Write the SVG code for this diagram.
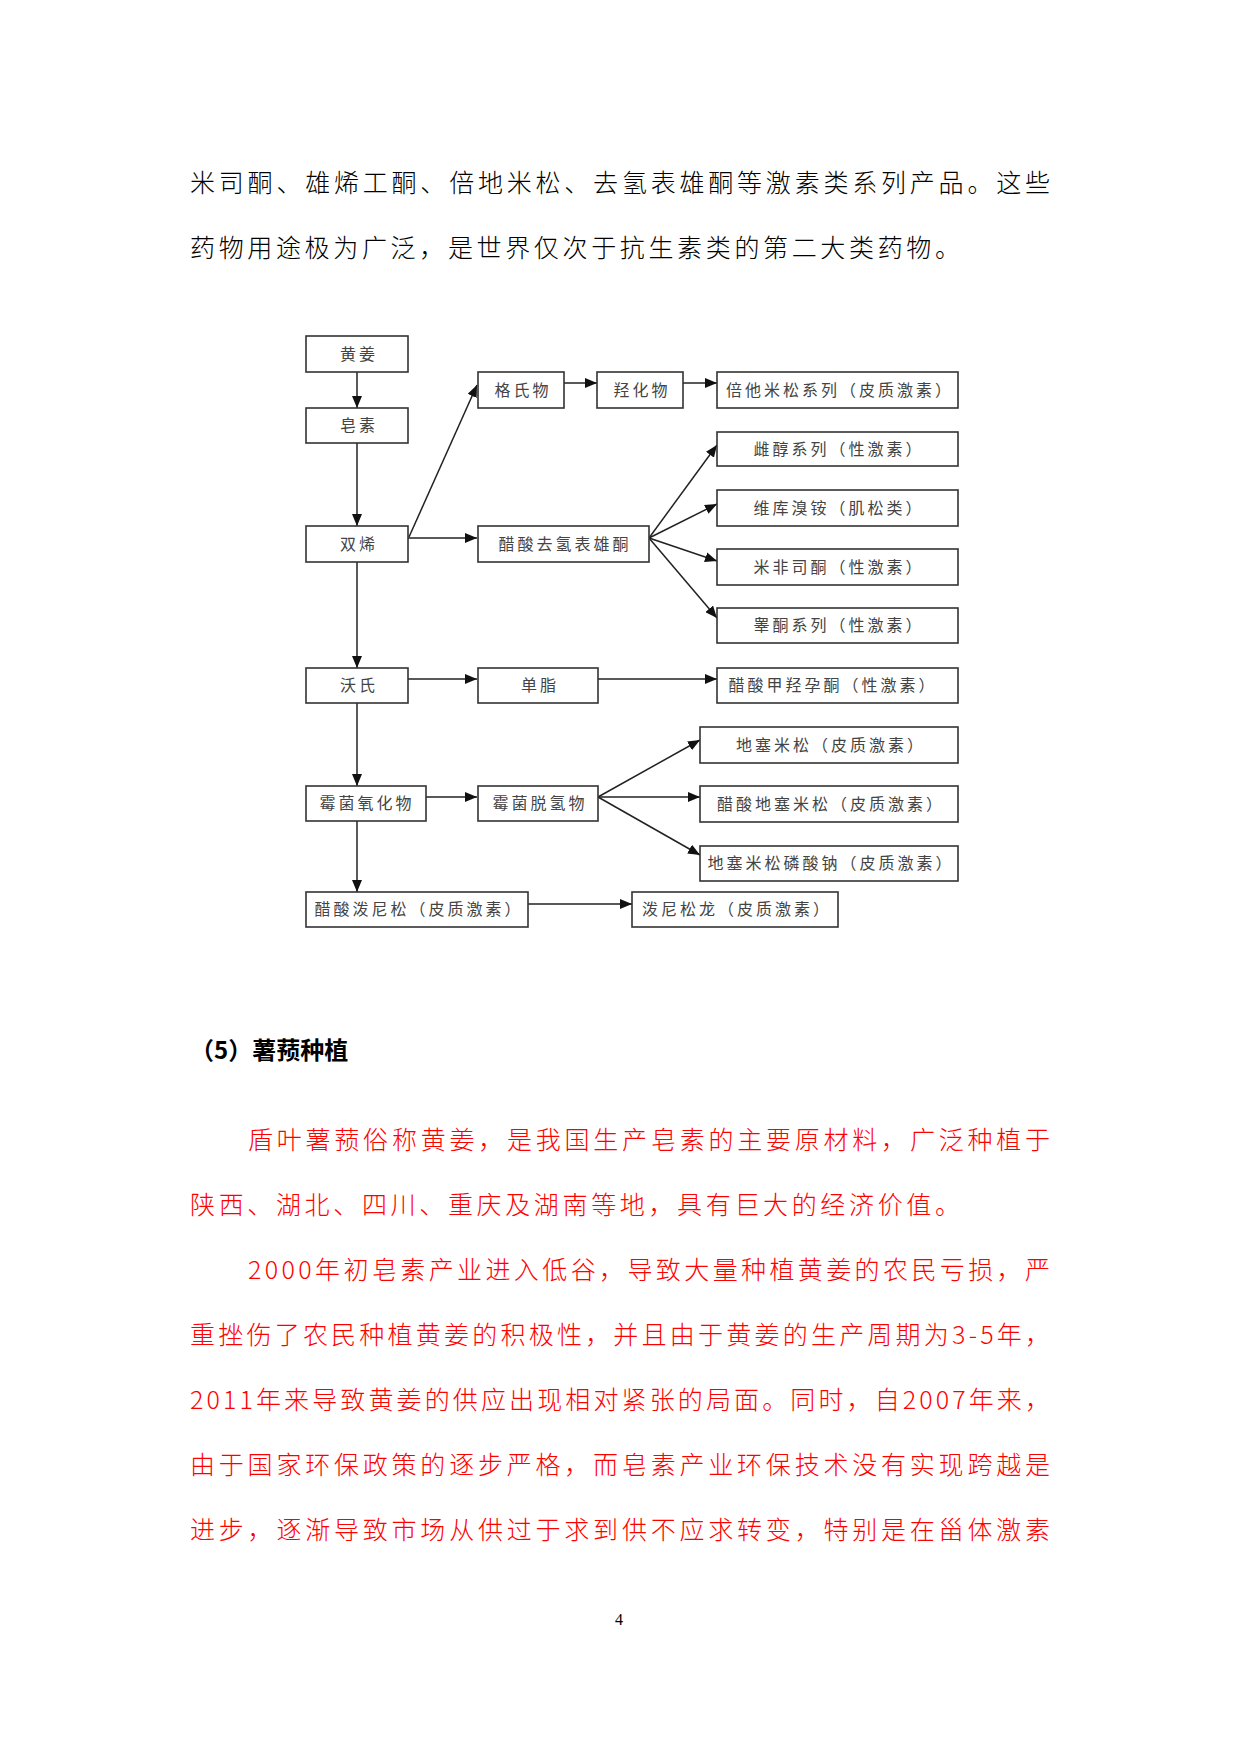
<svg xmlns="http://www.w3.org/2000/svg" width="1241" height="1754" viewBox="0 0 1241 1754">
<style>
.body{font-family:"Noto Sans CJK SC","Liberation Serif",sans-serif;font-size:25px;fill:#000;font-weight:300}
.red{fill:#ff0000}
.box{fill:#fff;stroke:#333;stroke-width:1.6}
.lbl{font-family:"Noto Sans CJK SC","Liberation Sans",sans-serif;font-size:16px;fill:#444;text-anchor:middle;letter-spacing:3px}
.conn{stroke:#222;stroke-width:1.5;fill:none;marker-end:url(#ah)}
</style>
<defs>
<marker id="ah" markerUnits="userSpaceOnUse" markerWidth="12" markerHeight="10" viewBox="0 0 12 10" refX="12" refY="5" orient="auto">
<path d="M0,0 L12,5 L0,10 z" fill="#111"/>
</marker>
</defs>
<rect width="1241" height="1754" fill="#fff"/>

<text class="body" x="190" y="192" textLength="860" lengthAdjust="spacing">米司酮、雄烯工酮、倍地米松、去氢表雄酮等激素类系列产品。这些</text>
<text class="body" x="190" y="257" textLength="770" lengthAdjust="spacing">药物用途极为广泛，是世界仅次于抗生素类的第二大类药物。</text>

<g id="connectors">
<line class="conn" x1="357" y1="372" x2="357" y2="408"/>
<line class="conn" x1="357" y1="443" x2="357" y2="526"/>
<line class="conn" x1="409" y1="537" x2="477" y2="385"/>
<line class="conn" x1="408" y1="538" x2="477" y2="538"/>
<line class="conn" x1="564" y1="383" x2="597" y2="383"/>
<line class="conn" x1="683" y1="383" x2="717" y2="383"/>
<line class="conn" x1="649" y1="538" x2="717" y2="445"/>
<line class="conn" x1="649" y1="538" x2="717" y2="504"/>
<line class="conn" x1="649" y1="538" x2="717" y2="561"/>
<line class="conn" x1="649" y1="538" x2="717" y2="618"/>
<line class="conn" x1="357" y1="562" x2="357" y2="668"/>
<line class="conn" x1="408" y1="679" x2="477" y2="679"/>
<line class="conn" x1="598" y1="679" x2="717" y2="679"/>
<line class="conn" x1="357" y1="703" x2="357" y2="786"/>
<line class="conn" x1="426" y1="797" x2="477" y2="797"/>
<line class="conn" x1="598" y1="797" x2="700" y2="740"/>
<line class="conn" x1="598" y1="797" x2="700" y2="797"/>
<line class="conn" x1="598" y1="797" x2="700" y2="855"/>
<line class="conn" x1="357" y1="821" x2="357" y2="892"/>
<line class="conn" x1="528" y1="904" x2="632" y2="904"/>
</g>

<g id="n-huangjiang"><rect class="box" x="306" y="336" width="102" height="36"/><text class="lbl" x="359" y="360">黄姜</text></g>
<g id="n-zaosu"><rect class="box" x="306" y="408" width="102" height="35"/><text class="lbl" x="359" y="431">皂素</text></g>
<g id="n-shuangxi"><rect class="box" x="306" y="526" width="102" height="36"/><text class="lbl" x="359" y="550">双烯</text></g>
<g id="n-geshiwu"><rect class="box" x="478" y="372" width="86" height="36"/><text class="lbl" x="523" y="396">格氏物</text></g>
<g id="n-qianghuawu"><rect class="box" x="597" y="372" width="86" height="36"/><text class="lbl" x="642" y="396">羟化物</text></g>
<g id="n-beitamisong"><rect class="box" x="717" y="372" width="241" height="36"/><text class="lbl" x="840" y="396">倍他米松系列（皮质激素）</text></g>
<g id="n-cusuanquqing"><rect class="box" x="478" y="526" width="171" height="36"/><text class="lbl" x="565" y="550">醋酸去氢表雄酮</text></g>
<g id="n-cichun"><rect class="box" x="717" y="432" width="241" height="34"/><text class="lbl" x="839" y="455">雌醇系列（性激素）</text></g>
<g id="n-weiku"><rect class="box" x="717" y="490" width="241" height="36"/><text class="lbl" x="839" y="514">维库溴铵（肌松类）</text></g>
<g id="n-mifeisitong"><rect class="box" x="717" y="549" width="241" height="36"/><text class="lbl" x="839" y="573">米非司酮（性激素）</text></g>
<g id="n-gaotong"><rect class="box" x="717" y="608" width="241" height="35"/><text class="lbl" x="839" y="631">睾酮系列（性激素）</text></g>
<g id="n-woshi"><rect class="box" x="306" y="668" width="102" height="35"/><text class="lbl" x="359" y="691">沃氏</text></g>
<g id="n-danzhi"><rect class="box" x="478" y="668" width="120" height="35"/><text class="lbl" x="540" y="691">单脂</text></g>
<g id="n-jiaqiang"><rect class="box" x="717" y="668" width="241" height="35"/><text class="lbl" x="833" y="691">醋酸甲羟孕酮（性激素）</text></g>
<g id="n-meijunyanghua"><rect class="box" x="306" y="786" width="120" height="35"/><text class="lbl" x="367" y="809">霉菌氧化物</text></g>
<g id="n-meijuntuoqing"><rect class="box" x="478" y="786" width="120" height="35"/><text class="lbl" x="540" y="809">霉菌脱氢物</text></g>
<g id="n-disaimisong"><rect class="box" x="700" y="727" width="258" height="36"/><text class="lbl" x="831" y="751">地塞米松（皮质激素）</text></g>
<g id="n-cusuandisai"><rect class="box" x="700" y="786" width="258" height="36"/><text class="lbl" x="831" y="810">醋酸地塞米松（皮质激素）</text></g>
<g id="n-linsuanna"><rect class="box" x="700" y="846" width="258" height="35"/><text class="lbl" x="831" y="869">地塞米松磷酸钠（皮质激素）</text></g>
<g id="n-cusuanponisong"><rect class="box" x="306" y="892" width="222" height="35"/><text class="lbl" x="419" y="915">醋酸泼尼松（皮质激素）</text></g>
<g id="n-ponisonglong"><rect class="box" x="632" y="892" width="206" height="35"/><text class="lbl" x="737" y="915">泼尼松龙（皮质激素）</text></g>

<text x="190" y="1059" font-family="Noto Sans CJK SC, Liberation Serif, sans-serif" font-size="24" font-weight="bold" fill="#000">（5）薯蓣种植</text>

<text class="body red" x="248" y="1149" textLength="802" lengthAdjust="spacing">盾叶薯蓣俗称黄姜，是我国生产皂素的主要原材料，广泛种植于</text>
<text class="body red" x="190" y="1214" textLength="770" lengthAdjust="spacing">陕西、湖北、四川、重庆及湖南等地，具有巨大的经济价值。</text>
<text class="body red" x="248" y="1279" textLength="802" lengthAdjust="spacing">2000年初皂素产业进入低谷，导致大量种植黄姜的农民亏损，严</text>
<text class="body red" x="190" y="1344" textLength="860" lengthAdjust="spacing">重挫伤了农民种植黄姜的积极性，并且由于黄姜的生产周期为3-5年，</text>
<text class="body red" x="190" y="1409" textLength="860" lengthAdjust="spacing">2011年来导致黄姜的供应出现相对紧张的局面。同时，自2007年来，</text>
<text class="body red" x="190" y="1474" textLength="860" lengthAdjust="spacing">由于国家环保政策的逐步严格，而皂素产业环保技术没有实现跨越是</text>
<text class="body red" x="190" y="1539" textLength="860" lengthAdjust="spacing">进步，逐渐导致市场从供过于求到供不应求转变，特别是在甾体激素</text>

<text x="619" y="1625" font-family="Liberation Serif, serif" font-size="16" text-anchor="middle" fill="#000">4</text>
</svg>
